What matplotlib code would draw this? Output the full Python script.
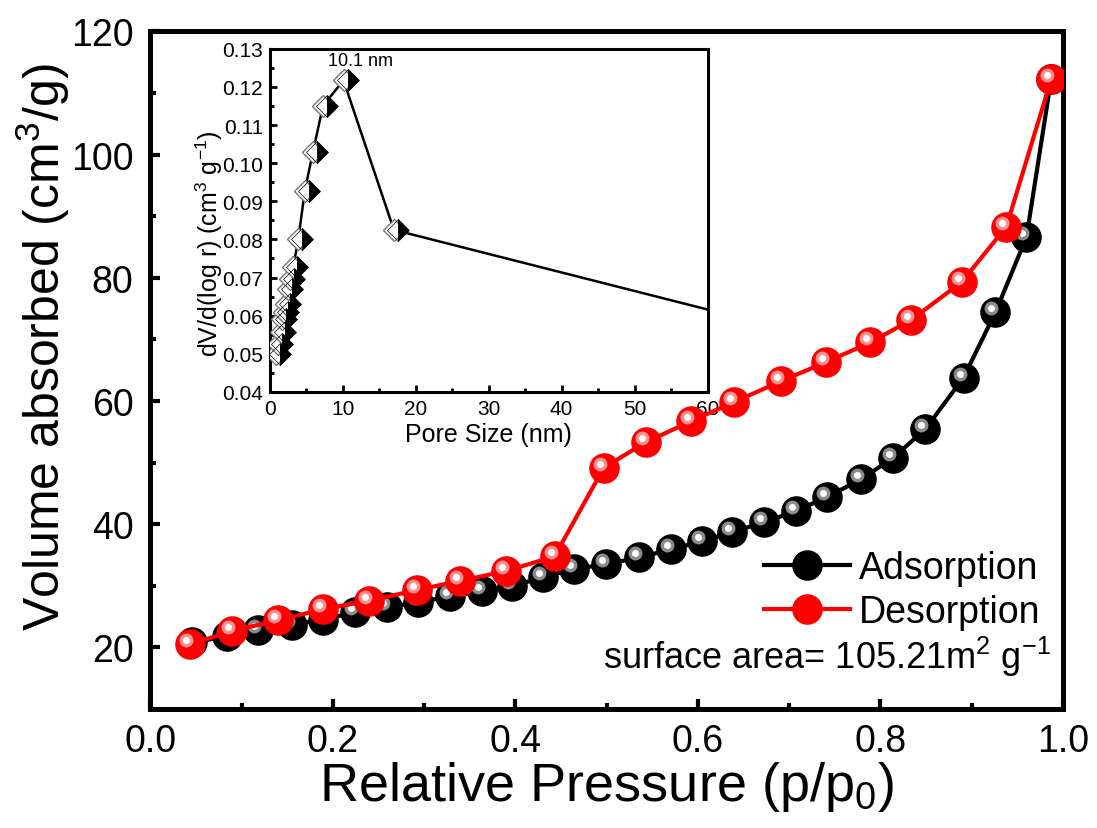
import numpy as np
import matplotlib
matplotlib.use("Agg")
import matplotlib.pyplot as plt
from matplotlib import transforms

plt.rcParams['font.family'] = ['Liberation Sans', 'DejaVu Sans']
plt.rcParams['mathtext.fontset'] = 'custom'
plt.rcParams['mathtext.rm'] = 'Liberation Sans'
plt.rcParams['mathtext.it'] = 'Liberation Sans:italic'
plt.rcParams['mathtext.bf'] = 'Liberation Sans:bold'

# ─── Data ────────────────────────────────────────────────────────────────────

ads_p = [0.046, 0.084, 0.118, 0.155, 0.189, 0.224, 0.259, 0.293, 0.328, 0.363,
         0.396, 0.430, 0.464, 0.499, 0.536, 0.570, 0.604, 0.637, 0.672, 0.707,
         0.741, 0.779, 0.814, 0.849, 0.891, 0.926, 0.960, 0.987]
ads_v = [20.8, 21.8, 22.9, 23.7, 24.5, 25.7, 26.5, 27.3, 28.3, 29.1,
         29.9, 31.4, 32.7, 33.5, 34.6, 35.9, 37.2, 38.7, 40.3, 42.1,
         44.4, 47.3, 50.8, 55.4, 63.8, 74.4, 86.6, 112.2]

des_p = [0.044, 0.090, 0.140, 0.189, 0.240, 0.292, 0.339, 0.390, 0.443,
         0.497, 0.543, 0.592, 0.639, 0.691, 0.740, 0.789, 0.834, 0.889,
         0.938, 0.987]
des_v = [20.5, 22.7, 24.4, 26.2, 27.6, 29.3, 30.8, 32.4, 34.8,
         49.2, 53.3, 56.7, 59.8, 63.2, 66.3, 69.5, 73.2, 79.3,
         88.3, 112.2]

pore_d = [0.9, 1.1, 1.5, 1.6, 1.9, 2.2, 2.5, 2.7, 3.2, 3.9, 4.8, 5.9, 7.3,
          10.1, 17.0, 66.0]
pore_dv = [0.0500, 0.0526, 0.0556, 0.0592, 0.0609, 0.0631, 0.0670, 0.0697,
           0.0727, 0.0801, 0.0928, 0.1029, 0.1151, 0.1217, 0.0825, 0.0587]

peak_label = "10.1 nm"
surface_text = "surface area= 105.21m$^2$ g$^{-1}$"


def ball_series(ax, x, y, color, hi1, label, z):
    """Line + big round markers with a small highlight, like Origin's 3D balls."""
    ax.plot(x, y, color=color, lw=3.0, marker='o', ms=21, mfc=color,
            mec=color, label=label, zorder=z)
    fig = ax.figure
    off = transforms.offset_copy(ax.transData, fig=fig, x=-4, y=4, units='dots')
    ax.plot(x, y, ls='none', marker='o', ms=10, mfc=hi1, mec='none',
            transform=off, zorder=z + 0.1)
    ax.plot(x, y, ls='none', marker='o', ms=5, mfc='white', mec='none',
            transform=off, zorder=z + 0.2)


fig = plt.figure(figsize=(10.97, 8.29), dpi=100)
ax = fig.add_axes([0.137, 0.1435, 0.832, 0.8175])
ax.set_zorder(2)
ax.patch.set_alpha(0)

ball_series(ax, ads_p, ads_v, 'black', '#8c8c8c', 'Adsorption', 3)
ball_series(ax, des_p, des_v, '#ff0000', '#ff9090', 'Desorption', 4)

ax.set_xlim(0.0, 1.0)
ax.set_ylim(10, 120)
ax.set_xticks(np.arange(0, 1.01, 0.2))
ax.set_xticks(np.arange(0.1, 1.0, 0.2), minor=True)
ax.set_yticks(np.arange(20, 121, 20))
ax.set_yticks(np.arange(10, 120, 20), minor=True)
ax.xaxis.set_major_formatter(matplotlib.ticker.FormatStrFormatter('%.1f'))
ax.tick_params(which='major', direction='in', length=7, width=3,
               labelsize=27, top=False, right=False)
ax.tick_params(axis='x', which='major', pad=10)
ax.tick_params(axis='y', which='major', pad=12)
ax.tick_params(which='minor', direction='in', length=4, width=3,
               top=False, right=False)
for s in ax.spines.values():
    s.set_linewidth(3.6)

ax.set_xlabel("Relative Pressure (p/p$_0$)", fontsize=39, labelpad=0)
ax.set_ylabel("Volume absorbed (cm$^3$/g)", fontsize=36)
ax.yaxis.set_label_coords(-0.086, 0.535)

h, l = ax.get_legend_handles_labels()
leg = ax.legend(h, l, loc='lower right', bbox_to_anchor=(0.992, 0.095),
                fontsize=27, frameon=False, handlelength=2.3,
                handletextpad=0.25, labelspacing=0.2, borderaxespad=0)

ax.text(0.987, 0.078, surface_text, transform=ax.transAxes, ha='right',
        va='center', fontsize=26)

# ─── Inset: pore size distribution ───────────────────────────────────────────
ins = fig.add_axes([0.246, 0.526, 0.399, 0.414])
ins.set_zorder(1)
ins.plot(pore_d, pore_dv, color='black', lw=1.8, zorder=2)
ins.plot(pore_d, pore_dv, ls='none', marker='D', ms=11, mfc='white',
         mec='#777777', mew=1.0, zorder=3)
off_in = transforms.offset_copy(ins.transData, fig=fig, x=4, y=0, units='dots')
ins.plot(pore_d, pore_dv, ls='none', marker='D', ms=11, fillstyle='right',
         mfc='black', mec='black', mew=0.5, transform=off_in, zorder=4)
ins.set_xlim(0, 60)
ins.set_ylim(0.04, 0.13)
ins.set_xticks(np.arange(0, 61, 10))
ins.set_xticks(np.arange(5, 60, 10), minor=True)
ins.set_yticks(np.arange(0.04, 0.1301, 0.01))
ins.set_yticks(np.arange(0.045, 0.13, 0.01), minor=True)
ins.yaxis.set_major_formatter(matplotlib.ticker.FormatStrFormatter('%.2f'))
ins.tick_params(which='major', direction='in', length=5, width=2,
                labelsize=15, top=False, right=False, pad=5)
ins.tick_params(which='minor', direction='in', length=3, width=2,
                top=False, right=False)
for s in ins.spines.values():
    s.set_linewidth(2.2)
ins.set_xlabel("Pore Size (nm)", fontsize=18, labelpad=3)
ins.set_ylabel("dV/d(log r) (cm$^3$ g$^{-1}$)", fontsize=18)
ins.yaxis.set_label_coords(-0.102, 0.434)
ins.annotate(peak_label, xy=(pore_d[13], pore_dv[13]), xytext=(12, 8),
             textcoords='offset points', ha='center', va='bottom', fontsize=13)

fig.savefig("out.png", dpi=100)
